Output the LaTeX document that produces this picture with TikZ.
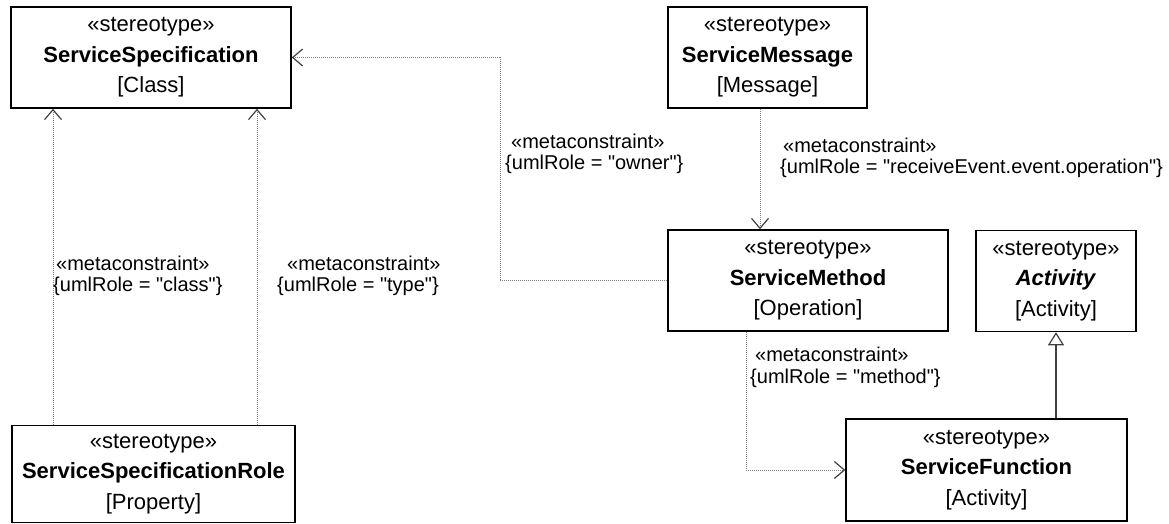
\documentclass[tikz,border=0pt]{standalone}
\usepackage{fontspec}
\setmainfont{Liberation Sans}[Ligatures=TeXOff]
\usetikzlibrary{arrows.meta}
\tikzset{
  stereo/.style={draw, line width=1.5pt, inner sep=0pt, align=center,
    font=\fontsize{22}{30.5}\selectfont},
  meta/.style={draw=gray, line width=1pt, dash pattern=on 1pt off 1pt,
    -{Straight Barb[length=10pt, width=17pt, line width=1.2pt, color=darkgray]}},
  gen/.style={draw=darkgray, line width=1.4pt,
    -{Triangle[open, length=13pt, width=16pt, line width=1.2pt, fill=white]}},
  lbl/.style={anchor=west, inner sep=0pt, align=left,
    font=\fontsize{20}{21.5}\selectfont},
}
\begin{document}
\begin{tikzpicture}[x=1pt, y=-1pt]
        \useasboundingbox (0,0) rectangle (1169,524);
        % stereotypes
        \node [stereo, minimum width=280pt, minimum height=101pt] (spec) at (151,57.5)
            {«stereotype»\\\textbf{ServiceSpecification}\\{[Class]}};
        \node [stereo, minimum width=199pt, minimum height=101pt] (msg) at (767.5,57.5)
            {«stereotype»\\\textbf{ServiceMessage}\\{[Message]}};
        \node [stereo, minimum width=280pt, minimum height=101pt] (meth) at (808,280.5)
            {«stereotype»\\\textbf{ServiceMethod}\\{[Operation]}};
        \node [stereo, minimum width=160pt, minimum height=101pt] (act) at (1056,281)
            {«stereotype»\\\textbf{\textit{Activity}}\\{[Activity]}};
        \node [stereo, minimum width=281pt, minimum height=102pt] (fn) at (986.5,470)
            {«stereotype»\\\textbf{ServiceFunction}\\{[Activity]}};
        \node [stereo, minimum width=283pt, minimum height=97pt] (role) at (153.5,474)
            {«stereotype»\\\textbf{ServiceSpecificationRole}\\{[Property]}};
        % role -> specification
        \draw [meta] (53,0 |- role.north) -- (53,0 |- spec.south);
        \draw [meta] (257,0 |- role.north) -- (257,0 |- spec.south);
        \node [lbl] (lclass) at (53,276) {\hspace*{3pt}«metaconstraint»\\\{umlRole = "class"\}};
        \node [lbl] (ltype) at (277,276) {\hspace*{10pt}«metaconstraint»\\\{umlRole = "type"\}};
        % method -> specification
        \coordinate (ownerbend) at (500,57.5);
        \draw [meta] (meth.west) -| (ownerbend) -- (spec.east);
        \node [lbl] (lowner) at (505,154) {\hspace*{6pt}«metaconstraint»\\\{umlRole = "owner"\}};
        % message -> method
        \draw [meta] (760,0 |- msg.south) -- (760,0 |- meth.north);
        \node [lbl] (lrecv) at (780,158) {\hspace*{3pt}«metaconstraint»\\\{umlRole = "receiveEvent.event.operation"\}};
        % method -> function
        \draw [meta] (746,0 |- meth.south) |- (fn.west);
        \node [lbl] (lmeth) at (750,367.5) {\hspace*{5pt}«metaconstraint»\\\{umlRole = "method"\}};
        % function -> activity
        \draw [gen] (fn.north -| act.south) -- (act.south);
    \end{tikzpicture}
\end{document}
